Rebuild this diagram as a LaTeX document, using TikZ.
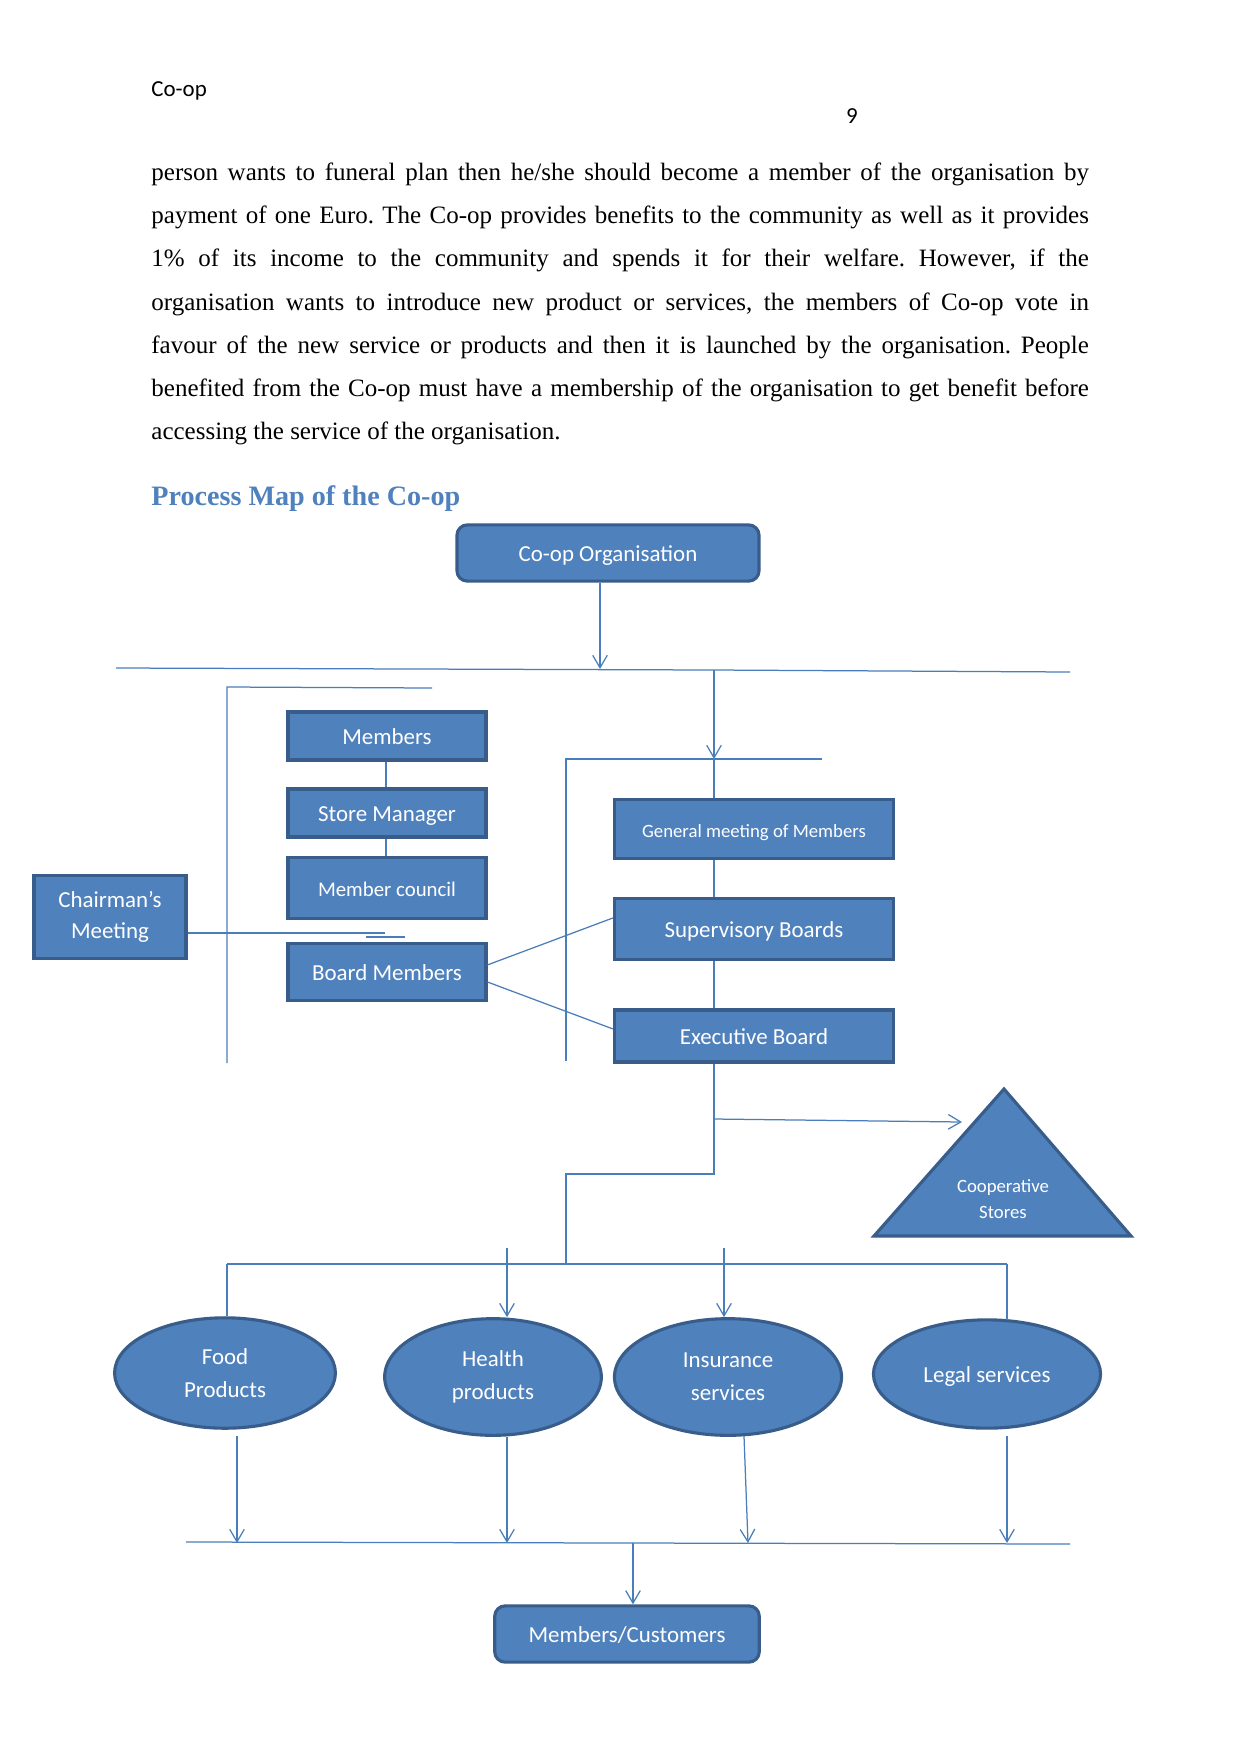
\documentclass[tikz,border=0pt]{standalone}
\usepackage{fontspec}
\setmainfont{Liberation Serif}
\newfontfamily\calibri{Carlito}
\usetikzlibrary{shapes.geometric,arrows.meta}
\frenchspacing

\definecolor{boxfill}{HTML}{4F81BD}
\definecolor{boxedge}{HTML}{385D8A}
\definecolor{linkblue}{HTML}{4A7EBB}

\tikzset{
  block/.style={draw=boxedge, fill=boxfill, line width=1.5pt, text=white,
    font=\calibri\fontsize{11}{14}\selectfont, inner sep=0pt, align=center},
  single/.style={text height=8.5pt, text depth=0pt},
  roundblock/.style={block, single, rounded corners=5pt},
  oval/.style={block, ellipse, font=\calibri\fontsize{11}{16}\selectfont},
  link/.style={draw=linkblue, line width=0.6pt},
  arrow/.style={link, -{Straight Barb[length=6pt,width=7pt]}},
  bodyline/.style={anchor=base west, inner sep=0pt, font=\fontsize{12}{14}\selectfont},
}

\begin{document}
\begin{tikzpicture}[x=0.48pt, y=-0.48pt]
  \fill[white] (0,0) rectangle (1241,1754);
  \useasboundingbox (0,0) rectangle (1241,1754);

  % Page header
  \node[anchor=base west, inner sep=0pt, font=\calibri\fontsize{11}{13}\selectfont] (header) at (151,96) {Co-op};
  \node[anchor=base, inner sep=0pt, font=\calibri\fontsize{11}{13}\selectfont] (pageno) at (852,123) {9};

  % Paragraph
  \node[bodyline] (line1) at (151,180) {\makebox[450pt][s]{person wants to funeral plan then he/she should become a member of the organisation by}};
  \node[bodyline] (line2) at (151,223) {\makebox[450pt][s]{payment of one Euro. The Co-op provides benefits to the community as well as it provides}};
  \node[bodyline] (line3) at (151,266) {\makebox[450pt][s]{1\% of its income to the community and spends it for their welfare. However, if the}};
  \node[bodyline] (line4) at (151,310) {\makebox[450pt][s]{organisation wants to introduce new product or services, the members of Co-op vote in}};
  \node[bodyline] (line5) at (151,353) {\makebox[450pt][s]{favour of the new service or products and then it is launched by the organisation. People}};
  \node[bodyline] (line6) at (151,396) {\makebox[450pt][s]{benefited from the Co-op must have a membership of the organisation to get benefit before}};
  \node[bodyline] (line7) at (151,439) {accessing the service of the organisation.};

  % Heading
  \node[anchor=base west, inner sep=0pt, text=boxfill, font=\bfseries\fontsize{13.5}{16}\selectfont] (title) at (151,505) {Process Map of the Co-op};

  % Boxes
  \node[roundblock, minimum width=145pt, minimum height=27pt] (org) at (608,553) {Co-op Organisation};
  \node[block, single, minimum width=134pt, minimum height=28pt, font=\calibri\fontsize{9}{11}\selectfont] (gm) at (754,829) {General meeting of Members};
  \node[block, single, minimum width=134pt, minimum height=29pt] (sb) at (754,929) {Supervisory Boards};
  \node[block, single, minimum width=134pt, minimum height=25pt] (eb) at (754,1036) {Executive Board};
  \node[block, single, minimum width=95pt, minimum height=23pt] (mem) at (387,736) {Members};
  \node[block, single, minimum width=95pt, minimum height=23pt] (sm) at (387,813) {Store Manager};
  \node[block, single, minimum width=95pt, minimum height=29.5pt, font=\calibri\fontsize{10}{12}\selectfont] (mc) at (387,888) {Member council};
  \node[block, single, minimum width=95pt, minimum height=27pt] (bm) at (387,972) {Board Members};
  \node[block, minimum width=73pt, minimum height=40pt, font=\calibri\fontsize{11}{15}\selectfont] (chair) at (110,917) {Chairman’s\\Meeting};

  % Products and services
  \node[oval, minimum width=106pt, minimum height=53pt] (food) at (225,1373) {Food\\Products};
  \node[oval, minimum width=104pt, minimum height=56pt] (health) at (493,1377) {Health\\products};
  \node[oval, minimum width=109pt, minimum height=56pt] (ins) at (728,1377) {Insurance\\services};
  \node[oval, single, minimum width=109pt, minimum height=52pt] (legal) at (987,1374) {Legal services};
  \node[roundblock, minimum width=127pt, minimum height=27pt] (cust) at (627,1634) {Members/Customers};

  % Stores triangle
  \coordinate (triTop) at (1004,1089);
  \coordinate (triLeft) at (874,1236);
  \coordinate (triRight) at (1131,1236);
  \draw[block] (triTop) -- (triLeft) -- (triRight) -- cycle;
  \node[text=white, inner sep=0pt, align=center, font=\calibri\fontsize{9}{12.5}\selectfont] (stores) at (1003,1199) {Cooperative\\Stores};

  % Top bus
  \coordinate (busL) at (116,668);
  \coordinate (busM) at (714,670);
  \coordinate (busR) at (1070,672);
  \coordinate (drop1) at (600,669);
  \draw[arrow] (org.south -| drop1) -- (drop1);
  \draw[link] (busL) -- (busM) -- (busR);

  % Right group
  \coordinate (rgL) at (566,759);
  \coordinate (rgM) at (714,759);
  \coordinate (rgR) at (822,759);
  \coordinate (rgB) at (566,1061);
  \draw[arrow] (busM) -- (rgM);
  \draw[link] (rgR) -- (rgL) -- (rgB);
  \draw[link] (rgM) -- (gm.north -| rgM);
  \draw[link] (gm.south -| rgM) -- (sb.north -| rgM);
  \draw[link] (sb.south -| rgM) -- (eb.north -| rgM);

  % Left group
  \coordinate (lgT) at (227,687);
  \coordinate (lgR) at (432,688);
  \coordinate (lgB) at (227,1063);
  \coordinate (lgC) at (386,700);
  \draw[link] (lgR) -- (lgT) -- (lgB);
  \draw[link] (mem.south -| lgC) -- (sm.north -| lgC);
  \draw[link] (sm.south -| lgC) -- (mc.north -| lgC);

  % Chairman link
  \coordinate (chEnd) at (385,933);
  \coordinate (tickA) at (366,937);
  \coordinate (tickB) at (405,937);
  \draw[link] (chEnd -| chair.east) -- (chEnd);
  \draw[link] (tickA) -- (tickB);

  % Board members to boards
  \draw[link] ([yshift=3.4pt]bm.east) -- ([yshift=5.3pt]sb.west);
  \draw[link] ([yshift=-4.8pt]bm.east) -- ([yshift=3.4pt]eb.west);

  % Executive board down
  \coordinate (ebJog) at (714,1174);
  \coordinate (prodTop) at (566,1174);
  \coordinate (prodBus) at (566,1264);
  \coordinate (storeFrom) at (714,1119);
  \coordinate (storeTo) at (962,1122);
  \draw[link] (eb.south -| ebJog) -- (ebJog) -- (prodTop) -- (prodBus);
  \draw[arrow] (storeFrom) -- (storeTo);

  % Products bus
  \coordinate (pbL) at (227,1264);
  \coordinate (pbR) at (1007,1264);
  \coordinate (hFrom) at (507,1248);
  \coordinate (iFrom) at (724,1248);
  \draw[link] (pbL) -- (pbR);
  \draw[link] (pbL) -- (food.north -| pbL);
  \draw[link] (pbR) -- ([yshift=-1pt]legal.north -| pbR);
  \draw[arrow] (hFrom) -- (health.north -| hFrom);
  \draw[arrow] (iFrom) -- (ins.north -| iFrom);

  % Bottom bus
  \coordinate (bbL) at (186,1542);
  \coordinate (bbR) at (1070,1544);
  \coordinate (fTo) at (237,1543);
  \coordinate (hTo) at (507,1543);
  \coordinate (iTop) at (744,1436);
  \coordinate (iTo) at (748,1543);
  \coordinate (lTo) at (1007,1543);
  \coordinate (cFrom) at (633,1543);
  \draw[link] (bbL) -- (bbR);
  \draw[arrow] ([yshift=-3pt]food.south -| fTo) -- (fTo);
  \draw[arrow] (health.south -| hTo) -- (hTo);
  \draw[arrow] (iTop) -- (iTo);
  \draw[arrow] ([yshift=-3pt]legal.south -| lTo) -- (lTo);
  \draw[arrow] (cFrom) -- (cust.north -| cFrom);
\end{tikzpicture}
\end{document}
